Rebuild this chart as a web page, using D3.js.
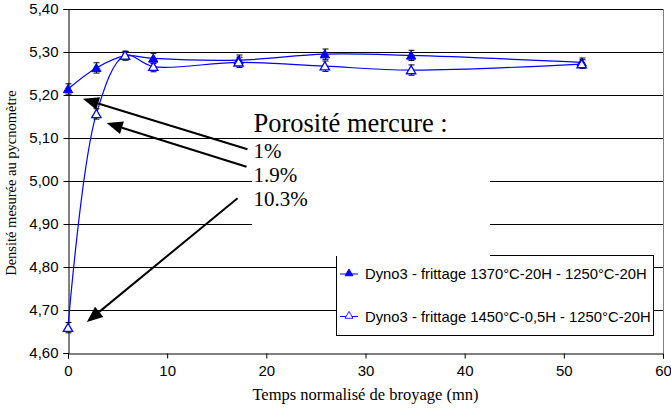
<!DOCTYPE html>
<meta charset="utf-8">
<head>
  <script src="https://cdn.jsdelivr.net/npm/d3@7"></script>
  <style>
    body { margin: 0; background: #fff; }
    text { fill: #000; }
  </style>
</head>
<body>
<script type="text/javascript">

// temps normalisé de broyage (mn)
var temps = [0, 2.86, 5.75, 8.6, 17.2, 25.9, 34.6, 51.8];
// densité - frittage 1370°C-20H
var dens1 = [5.214, 5.263, 5.291, 5.285, 5.281, 5.295, 5.292, 5.276];
// densité - frittage 1450°C-0,5H
var dens2 = [4.659, 5.156, 5.292, 5.266, 5.276, 5.267, 5.258, 5.272];
var erreur = [0.012, 0.012, 0.01, 0.012, 0.012, 0.012, 0.012, 0.01];

var noms = ["Dyno3 - frittage 1370°C-20H - 1250°C-20H",
            "Dyno3 - frittage 1450°C-0,5H - 1250°C-20H"];

var xTicks = [0, 10, 20, 30, 40, 50, 60];
var yTicks = [4.6, 4.7, 4.8, 4.9, 5.0, 5.1, 5.2, 5.3, 5.4];

// annotation : porosité mercure
var porosites = ["1%", "1.9%", "10.3%"];
// flèches : [x queue, y queue, x pointe, y pointe]
var fleches = [
  [18.1, 5.074, 1.5, 5.191],
  [18.0, 5.033, 3.9, 5.135],
  [17.1, 4.960, 1.9, 4.672]
];

var w = 671, h = 414;
var mLeft = 68, mRight = 663, mTop = 9, mBottom = 353;

var svg = d3.select("body").append("svg")
    .attr("width", w)
    .attr("height", h)
    .style("font-family", "'Liberation Sans', Arial, sans-serif");

var x = d3.scaleLinear().domain([0, 60]).range([mLeft, mRight]);
var y = d3.scaleLinear().domain([4.6, 5.4]).range([mBottom, mTop]);

// quadrillage
svg.selectAll("line.grid")
  .data(yTicks.slice(1))
  .enter().append("line")
  .attr("class", "grid")
  .attr("x1", mLeft).attr("x2", mRight)
  .attr("y1", function(d){ return Math.round(y(d)) + 0.5; })
  .attr("y2", function(d){ return Math.round(y(d)) + 0.5; })
  .attr("stroke", "#000").attr("stroke-width", 1);

// bord droit de la zone de tracé
svg.append("line")
  .attr("x1", mRight + 0.5).attr("x2", mRight + 0.5)
  .attr("y1", mTop).attr("y2", mBottom)
  .attr("stroke", "#808080");

// axes
var xAxis = svg.append("g")
  .attr("transform", "translate(0," + (Math.round(y(4.6)) + 0.5) + ")")
  .call(d3.axisBottom(x).tickValues(xTicks).tickSize(5).tickPadding(7));
var yAxis = svg.append("g")
  .attr("transform", "translate(" + (Math.round(x(0)) + 0.5) + ",0)")
  .call(d3.axisLeft(y).tickValues(yTicks).tickSize(5).tickPadding(5)
    .tickFormat(function(d){ return d3.format(".2f")(d).replace(".", ","); }));

[xAxis, yAxis].forEach(function(a){
  a.select(".domain").attr("stroke", "#000");
  a.selectAll(".tick line").attr("stroke", "#000");
  a.selectAll(".tick text")
    .style("font-family", "'Liberation Sans', Arial, sans-serif")
    .style("font-size", "15px").attr("fill", "#000");
});

var serif = "'Liberation Serif', 'Times New Roman', serif";

// titres des axes
svg.append("text")
  .attr("x", (mLeft + mRight) / 2).attr("y", 400)
  .attr("text-anchor", "middle")
  .style("font-family", serif)
  .style("font-size", "16.5px")
  .text("Temps normalisé de broyage (mn)");

svg.append("text")
  .attr("transform", "translate(16,183) rotate(-90)")
  .attr("text-anchor", "middle")
  .style("font-family", serif)
  .style("font-size", "14.5px")
  .text("Densité mesurée au pycnomètre");

// séries
var series = [dens1, dens2];
var ligne = d3.line()
  .x(function(d){ return x(d[0]); })
  .y(function(d){ return y(d[1]); })
  .curve(d3.curveCatmullRom.alpha(0.5));

var tri = d3.symbol().type(d3.symbolTriangle).size(38);

series.forEach(function(s, k){
  var pts = temps.map(function(t, i){ return [t, s[i], erreur[i]]; });

  svg.append("path")
    .datum(pts)
    .attr("d", ligne)
    .attr("fill", "none")
    .attr("stroke", "#0000ff")
    .attr("stroke-width", 1.2);

  var eb = svg.append("g");
  pts.forEach(function(p){
    var cx = Math.round(x(p[0])) + 0.5;
    eb.append("line")
      .attr("x1", cx).attr("x2", cx)
      .attr("y1", y(p[1] + p[2])).attr("y2", y(p[1] - p[2]))
      .attr("stroke", "#000");
    [p[1] + p[2], p[1] - p[2]].forEach(function(v){
      eb.append("line")
        .attr("x1", cx - 3).attr("x2", cx + 3)
        .attr("y1", y(v)).attr("y2", y(v))
        .attr("stroke", "#000");
    });
  });

  svg.selectAll(null)
    .data(pts)
    .enter().append("path")
    .attr("d", tri)
    .attr("transform", function(d){ return "translate(" + x(d[0]) + "," + (y(d[1]) + 1) + ")"; })
    .attr("fill", k === 0 ? "#0000ff" : "#fff")
    .attr("stroke", "#0000ff")
    .attr("stroke-width", k === 0 ? 1 : 1.3);
});

// légende
var lx = 336, ly = 255, lw = 317, lh = 80;
svg.append("rect")
  .attr("x", lx + 0.5).attr("y", ly + 0.5)
  .attr("width", lw).attr("height", lh)
  .attr("fill", "#fff").attr("stroke", "#000");

noms.forEach(function(n, k){
  var yy = ly + 19 + k * 42.5;
  svg.append("line")
    .attr("x1", lx + 4).attr("x2", lx + 22)
    .attr("y1", yy).attr("y2", yy)
    .attr("stroke", "#0000ff");
  svg.append("path")
    .attr("d", tri)
    .attr("transform", "translate(" + (lx + 13) + "," + (yy - 0.5) + ") scale(0.85)")
    .attr("fill", k === 0 ? "#0000ff" : "#fff")
    .attr("stroke", "#0000ff");
  svg.append("text")
    .attr("x", lx + 29).attr("y", yy + 5)
    .style("font-size", "14.8px")
    .text(n);
});

// zone de texte de l'annotation
svg.append("rect")
  .attr("x", 252).attr("y", 140)
  .attr("width", 238).attr("height", 116)
  .attr("fill", "#fff");

svg.append("text")
  .attr("x", x(18.7)).attr("y", 132)
  .style("font-family", serif).style("font-size", "26.5px")
  .text("Porosité mercure :");

svg.selectAll(null)
  .data(porosites)
  .enter().append("text")
  .attr("x", x(18.7))
  .attr("y", function(d, i){ return 158 + i * 24; })
  .style("font-family", serif).style("font-size", "21px")
  .text(function(d){ return d; });

// flèches
fleches.forEach(function(f){
  var x1 = x(f[0]), y1 = y(f[1]), x2 = x(f[2]), y2 = y(f[3]);
  var a = Math.atan2(y2 - y1, x2 - x1);
  var L = 16, W = 6.5;
  var bx = x2 - L * Math.cos(a), by = y2 - L * Math.sin(a);
  svg.append("line")
    .attr("x1", x1).attr("y1", y1).attr("x2", bx).attr("y2", by)
    .attr("stroke", "#000").attr("stroke-width", 2);
  svg.append("path")
    .attr("d", "M" + x2 + "," + y2 +
      "L" + (bx + W * Math.sin(a)) + "," + (by - W * Math.cos(a)) +
      "L" + (bx - W * Math.sin(a)) + "," + (by + W * Math.cos(a)) + "Z")
    .attr("fill", "#000");
});

</script>
</body>
